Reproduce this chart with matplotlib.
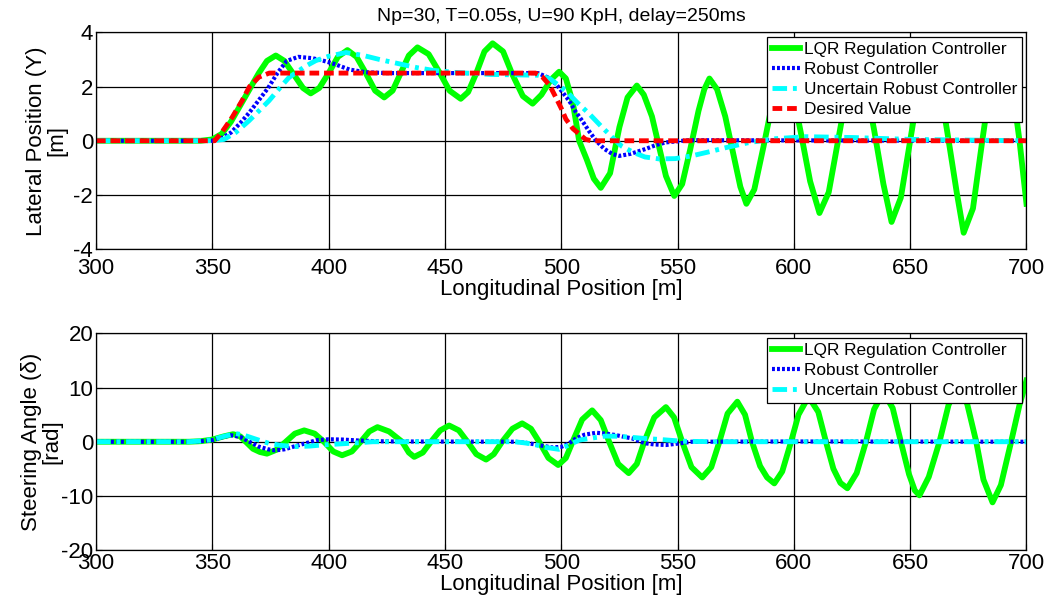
import matplotlib
matplotlib.use('Agg')
import matplotlib.pyplot as plt

plt.rcParams['font.family'] = ['Liberation Sans', 'DejaVu Sans']
plt.rcParams['axes.unicode_minus'] = False

# lateral position (top plot)
lqr_y_x = [300, 345, 350, 354, 358, 362, 366, 370, 373.5, 377.3, 381, 385, 389, 392.3, 396, 400,
           404, 408.1, 412, 416, 420, 423.9, 427.5, 431, 434.5, 438.2, 443, 447.5, 452, 456.8, 460,
           463.5, 467, 470.5, 475, 479, 483.5, 487.7, 491.5, 495.5, 499.1, 502, 505, 507.7, 511, 514,
           517, 521, 525, 528.5, 532.5, 535.5, 539, 542, 545, 548.6, 552, 555.5, 559, 561.5, 563.7,
           567, 570.5, 574, 577, 579.6, 583, 587, 591, 595, 599, 603, 607, 611, 615, 619, 623, 626.5,
           630.5, 634.5, 638.5, 642, 646, 650, 654, 658, 662, 666, 670, 673, 677, 681, 685, 689, 693,
           697, 700]
lqr_y = [0, 0, 0.05, 0.25, 0.7, 1.3, 1.9, 2.5, 2.95, 3.15, 2.95, 2.45, 1.95, 1.75, 1.95, 2.5,
         3.1, 3.35, 3.1, 2.5, 1.85, 1.6, 1.85, 2.5, 3.15, 3.45, 3.2, 2.55, 1.85, 1.55, 1.8,
         2.5, 3.3, 3.6, 3.3, 2.45, 1.65, 1.37, 1.7, 2.25, 2.55, 2.3, 1.4, 0.0, -0.7, -1.4,
         -1.74, -1.2, 0.5, 1.6, 2.04, 1.7, 0.9, -0.2, -1.3, -2.04, -1.6, -0.3, 1.1, 1.9, 2.3,
         1.9, 0.9, -0.5, -1.7, -2.33, -1.8, -0.2, 1.5, 2.6, 2.0, 0.3, -1.5, -2.67, -1.9, 0, 1.9, 2.9,
         2.2, 0.4, -1.6, -3.0, -2.1, 0, 2.1, 3.2, 2.4, 0.3, -1.9, -3.4, -2.5, 0, 2.4, 3.5, 2.6,
         0.0, -2.33]

rob_y_x = [300, 350, 354, 358, 362, 366, 370, 374, 378, 382, 387, 393, 398, 402, 409, 416, 425, 490,
           494, 497.7, 500.5, 503.4, 506, 509, 512, 515, 518.5, 522, 525, 530, 536.4, 541, 545, 555, 700]
rob_y = [0, 0, 0.1, 0.3, 0.65, 1.05, 1.5, 1.95, 2.5, 2.95, 3.1, 3.05, 2.95, 2.85, 2.63, 2.53, 2.5, 2.5,
         2.35, 2.1, 1.8, 1.48, 1.1, 0.74, 0.35, 0.0, -0.3, -0.49, -0.56, -0.48, -0.3, -0.15, -0.06, 0.02, 0]

unc_y_x = [300, 350, 355, 360, 365.8, 370, 374.4, 380, 383, 390, 394.5, 400, 407.5, 415, 422, 430, 438,
           445, 455, 470, 490, 495, 502, 507, 512, 517, 522, 526, 531, 536, 542, 549, 556, 563, 571,
           580, 591, 605, 625, 650, 700]
unc_y = [0, 0, 0.05, 0.3, 0.74, 1.1, 1.48, 2.05, 2.34, 2.75, 2.96, 3.12, 3.26, 3.15, 3.0, 2.85, 2.7,
         2.6, 2.52, 2.45, 2.42, 2.3, 1.85, 1.4, 1.0, 0.55, 0.12, -0.2, -0.43, -0.6, -0.67, -0.66, -0.56,
         -0.42, -0.25, -0.08, 0.07, 0.15, 0.12, 0.05, 0]

des_x = [300, 351, 354, 358.5, 362.8, 366, 370, 374.5, 489, 492, 495, 497.7, 500, 502, 505, 507.7,
         510.5, 513, 700]
des_y = [0, 0, 0.3, 0.86, 1.48, 2.0, 2.35, 2.5, 2.5, 2.35, 2.05, 1.6, 1.2, 0.8, 0.45, 0.25,
         0.05, 0, 0]

# steering angle (bottom plot)
lqr_d_x = [300, 340, 345, 350, 355, 359, 362, 364.4, 367.5, 370.5, 373.5, 377.5, 381.6, 385.5, 389.5,
           394, 398, 402, 405.8, 410, 413.8, 417.5, 421, 426, 431.6, 434.5, 436.8, 440.5, 444, 448,
           451.8, 456, 459.7, 463.5, 467.7, 471, 474.6, 479, 483.2, 487, 490.5, 494.5, 498.7, 502,
           504.9, 509, 513.3, 517, 520.6, 524.5, 529, 532.5, 535.7, 540, 545, 548.5, 552, 556, 560.6,
           564.5, 568, 571.5, 575.7, 579, 582, 585.5, 588.5, 591.6, 595, 598.8, 602, 606.3, 610.5,
           613.8, 617, 620, 623, 627, 631, 634.5, 638.5, 642.5, 646, 649.5, 652, 654, 658, 662.6,
           666.5, 670.5, 674.5, 678.4, 681.5, 685.4, 689, 693.4, 697, 700]
lqr_d = [0, 0, 0.1, 0.4, 1.0, 1.4, 1.0, 0, -1.3, -1.9, -2.2, -1.5, 0, 1.5, 2.1,
         1.5, 0, -1.8, -2.5, -1.8, 0, 1.9, 2.7, 1.9, 0, -2.0, -2.8, -2.0, 0, 2.1,
         3.0, 2.1, 0, -2.3, -3.3, -2.3, 0, 2.4, 3.4, 2.4, 0, -3.0, -4.3, -3.0,
         0, 4.1, 5.8, 4.0, 0, -4.1, -5.8, -4.1, 0, 4.5, 6.4, 4.5, 0, -4.7, -6.6,
         -4.7, 0, 5.2, 7.4, 5.0, 0, -4.5, -6.6, -7.7, -5.5, 0, 5.0, 8.3, 5.5,
         0, -5.0, -7.6, -8.6, -5.8, 0, 6.0, 9.2, 6.2, 0, -6.0, -9.0, -9.9, -6.5, 0,
         6.8, 10.3, 7.0, 0, -7.0, -11.2, -8.0, 0, 6.8, 11.3]

rob_d_x = [300, 340, 345, 350, 354, 358, 362, 366, 370, 374, 377, 381, 385, 390, 395, 400, 406, 412,
           420, 430, 480, 485, 490, 496, 500, 503, 506.3, 510, 515, 519, 523.5, 527, 530.6, 533.5,
           536.4, 540, 545, 550, 556, 600, 700]
rob_d = [0, 0, 0.1, 0.3, 0.8, 1.2, 0.9, 0.0, -0.9, -1.4, -1.6, -1.4, -0.9, -0.3, 0.3, 0.45, 0.4, 0.25,
         0.1, 0.05, 0, -0.2, -0.6, -1.05, -0.95, -0.4, 0.6, 1.3, 1.66, 1.5, 1.23, 0.9, 0.6, 0.1,
         -0.3, -0.5, -0.6, -0.35, 0, 0.05, 0]

unc_d_x = [300, 340, 345, 350, 355, 360, 363, 365.8, 370, 374.4, 380, 386, 392, 397, 403, 408.8, 419,
           480, 484, 487.5, 493.4, 499, 503.4, 507.7, 512, 519, 525, 530.6, 536, 542, 552, 565, 700]
unc_d = [0, 0, 0.15, 0.4, 1.0, 1.5, 1.3, 0.9, 0.3, -0.3, -0.7, -0.9, -0.8, -0.6, -0.45, -0.3, 0,
         0, -0.2, -0.4, -1.05, -1.4, -0.6, 0.3, 0.6, 1.05, 1.0, 0.8, 0.6, 0.43, 0.1, 0, 0]

xticks = [300, 350, 400, 450, 500, 550, 600, 650, 700]

fig = plt.figure(figsize=(10.5, 6.05), dpi=100)
ax1 = fig.add_axes([0.0914, 0.5884, 0.8862, 0.3579])
ax2 = fig.add_axes([0.0914, 0.0909, 0.8862, 0.3579])

green = '#00ff00'
dots = (0, (0.7, 0.5))
dashdot = (0, (3, 1.2, 0.8, 1.2))
ax1.plot(lqr_y_x, lqr_y, color=green, lw=4.2, label='LQR Regulation Controller')
ax1.plot(rob_y_x, rob_y, color='#0000ff', lw=3, ls=dots, label='Robust Controller')
ax1.plot(unc_y_x, unc_y, color='#00ffff', lw=3.5, ls=dashdot, label='Uncertain Robust Controller')
ax1.plot(des_x, des_y, color='#ff0000', lw=3.5, ls=(0, (2.0, 1.0)), label='Desired Value')

ax2.plot(lqr_d_x, lqr_d, color=green, lw=4.2, label='LQR Regulation Controller')
ax2.plot(rob_d_x, rob_d, color='#0000ff', lw=3, ls=dots, label='Robust Controller')
ax2.plot(unc_d_x, unc_d, color='#00ffff', lw=3.5, ls=dashdot, label='Uncertain Robust Controller')

ax1.set_ylim(-4, 4)
ax1.set_yticks([-4, -2, 0, 2, 4])
ax2.set_ylim(-20, 20)
ax2.set_yticks([-20, -10, 0, 10, 20])

for ax in (ax1, ax2):
    ax.set_xlim(300, 700)
    ax.set_xticks(xticks)
    ax.grid(True, color='black', lw=0.9, ls='-')
    ax.set_axisbelow(True)
    ax.tick_params(direction='in', length=4, labelsize=16, color='black', pad=2)
    for s in ax.spines.values():
        s.set_linewidth(0.9)
    leg = ax.legend(loc='upper right', fontsize=12.4, fancybox=False, framealpha=1,
                    edgecolor='black', handlelength=1.65, handletextpad=0.2,
                    borderpad=0.3, labelspacing=0.28, borderaxespad=0.25)
    leg.get_frame().set_linewidth(0.9)

ax1.tick_params(axis='x', pad=6.5)
ax2.tick_params(axis='x', pad=2)
ax1.set_xlabel('Longitudinal Position [m]', fontsize=16, labelpad=0)
ax2.set_xlabel('Longitudinal Position [m]', fontsize=16, labelpad=0)

ax1.set_ylabel('Lateral Position (Y)\n[m]', fontsize=16, linespacing=0.95)
ax2.set_ylabel('Steering Angle (δ)\n[rad]', fontsize=16, linespacing=0.95)
ax1.yaxis.set_label_coords(-0.031, 0.5)
ax2.yaxis.set_label_coords(-0.036, 0.5)
ax1.set_title('Np=30, T=0.05s, U=90 KpH, delay=250ms', fontsize=14, pad=8)

fig.savefig('out.png', dpi=100)
